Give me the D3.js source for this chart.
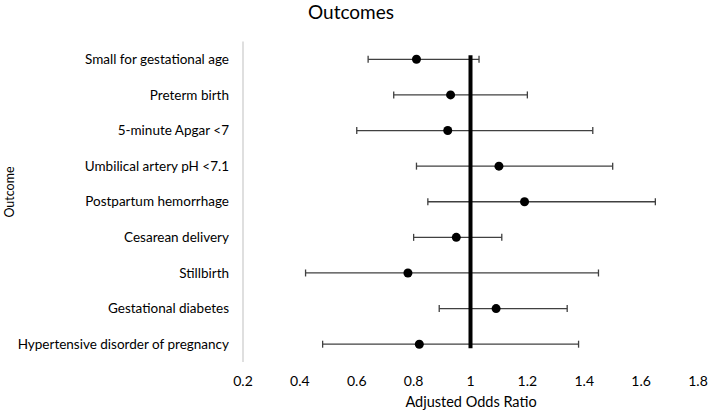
<!DOCTYPE html>
<html>
<head>
<meta charset="utf-8">
<script src="https://cdn.jsdelivr.net/npm/d3@7"></script>
<style>
body { margin: 0; background: #fff; }
text { font-family: Lato, "Open Sans", sans-serif; fill: #000; }
</style>
</head>
<body>
<svg id="chart" width="712" height="412"></svg>
<script>
var outcomes = ["Small for gestational age", "Preterm birth", "5-minute Apgar <7",
  "Umbilical artery pH <7.1", "Postpartum hemorrhage", "Cesarean delivery",
  "Stillbirth", "Gestational diabetes", "Hypertensive disorder of pregnancy"];
var oddsRatio = [0.81, 0.93, 0.92, 1.10, 1.19, 0.95, 0.78, 1.09, 0.82];
var lower = [0.64, 0.73, 0.60, 0.81, 0.85, 0.80, 0.42, 0.89, 0.48];
var upper = [1.03, 1.20, 1.43, 1.50, 1.65, 1.11, 1.45, 1.34, 1.38];
var xTicks = [0.2, 0.4, 0.6, 0.8, 1, 1.2, 1.4, 1.6, 1.8];

var svg = d3.select("#chart");

var x = d3.scaleLinear().domain([0.2, 1.8]).range([243, 698]);
var y = d3.scaleBand().domain(outcomes).range([41.5, 362]);

function cy(d){ return y(d) + y.bandwidth() / 2; }

// title
svg.append("text")
  .attr("x", 351).attr("y", 19)
  .attr("text-anchor", "middle")
  .attr("font-size", 19)
  .text("Outcomes");

// left axis line
svg.append("line")
  .attr("x1", x(0.2)).attr("x2", x(0.2))
  .attr("y1", y.range()[0]).attr("y2", y.range()[1])
  .attr("stroke", "#bfbfbf").attr("stroke-width", 1);

// category labels
svg.selectAll(".cat").data(outcomes).enter().append("text")
  .attr("class", "cat")
  .attr("x", 229)
  .attr("y", function(d){ return cy(d); })
  .attr("dy", "0.35em")
  .attr("text-anchor", "end")
  .attr("font-size", 13.5)
  .text(function(d){ return d; });

// x tick labels
svg.selectAll(".tick").data(xTicks).enter().append("text")
  .attr("class", "tick")
  .attr("x", function(d){ return x(d); })
  .attr("y", 386)
  .attr("text-anchor", "middle")
  .attr("font-size", 14)
  .text(function(d){ return d; });

svg.append("text")
  .attr("x", 471).attr("y", 407)
  .attr("text-anchor", "middle")
  .attr("font-size", 14.5)
  .text("Adjusted Odds Ratio");

svg.append("text")
  .attr("transform", "translate(14,192) rotate(-90)")
  .attr("text-anchor", "middle")
  .attr("font-size", 12.5)
  .text("Outcome");

// error bars
var rows = outcomes.map(function(o, i){
  return {name: o, or: oddsRatio[i], lo: lower[i], hi: upper[i]};
});

var g = svg.selectAll(".row").data(rows).enter().append("g").attr("class", "row");

g.append("line")
  .attr("x1", function(d){ return x(d.lo); })
  .attr("x2", function(d){ return x(d.hi); })
  .attr("y1", function(d){ return cy(d.name); })
  .attr("y2", function(d){ return cy(d.name); })
  .attr("stroke", "#404040").attr("stroke-width", 1.3);

["lo", "hi"].forEach(function(k){
  g.append("line")
    .attr("x1", function(d){ return x(d[k]); })
    .attr("x2", function(d){ return x(d[k]); })
    .attr("y1", function(d){ return cy(d.name) - 3.5; })
    .attr("y2", function(d){ return cy(d.name) + 3.5; })
    .attr("stroke", "#404040").attr("stroke-width", 1.3);
});

// reference line at 1
svg.append("line")
  .attr("x1", x(1)).attr("x2", x(1))
  .attr("y1", cy(outcomes[0]) - 4)
  .attr("y2", cy(outcomes[outcomes.length - 1]) + 4)
  .attr("stroke", "#000").attr("stroke-width", 4);

g.append("circle")
  .attr("cx", function(d){ return x(d.or); })
  .attr("cy", function(d){ return cy(d.name); })
  .attr("r", 4.5)
  .attr("fill", "#000");
</script>
</body>
</html>
